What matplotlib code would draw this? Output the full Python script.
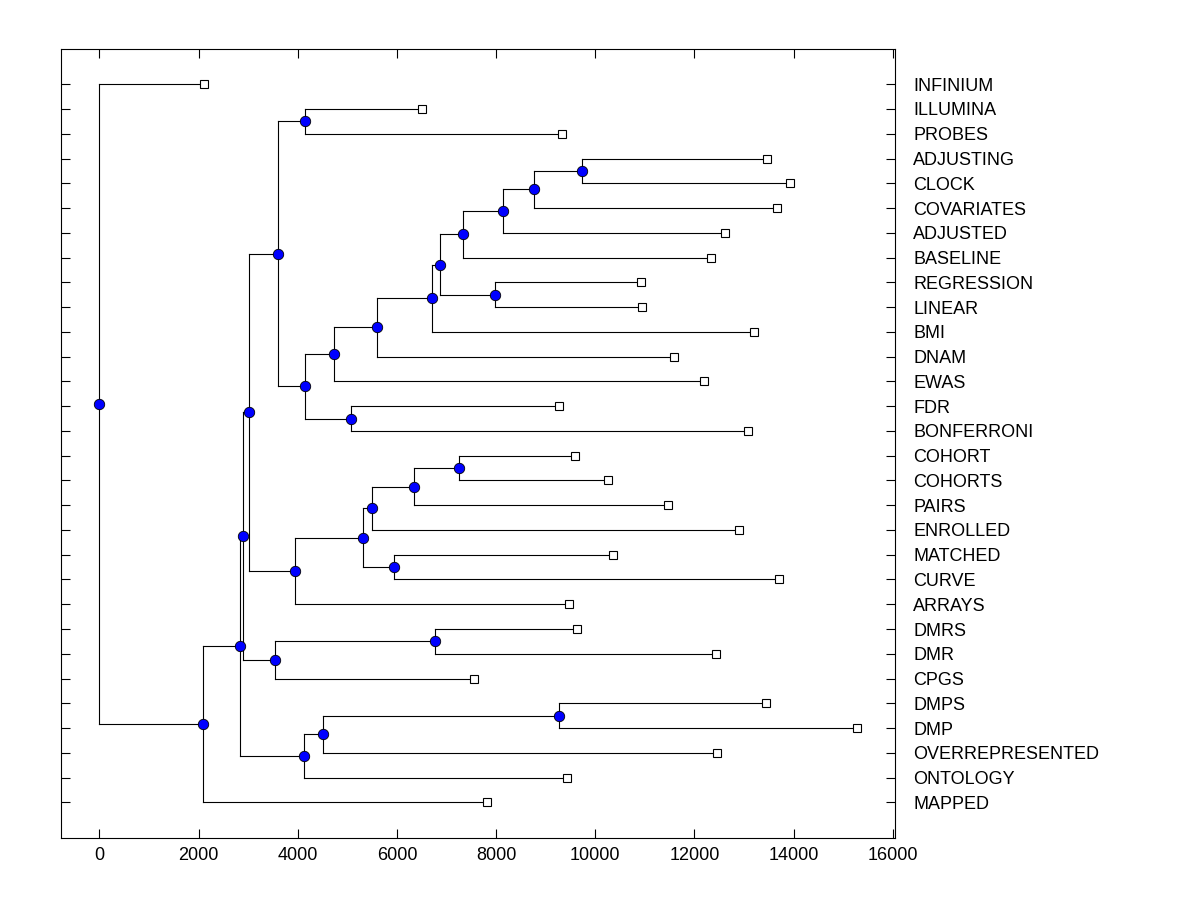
import matplotlib
matplotlib.use("Agg")
import matplotlib.pyplot as plt

# leaves, top to bottom
labels = ["INFINIUM", "ILLUMINA", "PROBES", "ADJUSTING", "CLOCK", "COVARIATES",
          "ADJUSTED", "BASELINE", "REGRESSION", "LINEAR", "BMI", "DNAM", "EWAS",
          "FDR", "BONFERRONI", "COHORT", "COHORTS", "PAIRS", "ENROLLED", "MATCHED",
          "CURVE", "ARRAYS", "DMRS", "DMR", "CPGS", "DMPS", "DMP",
          "OVERREPRESENTED", "ONTOLOGY", "MAPPED"]
leaf_dist = [2100, 6500, 9320, 13470, 13920, 13670, 12610, 12330, 10930, 10950,
             13210, 11590, 12190, 9260, 13090, 9600, 10250, 11470, 12890, 10350,
             13710, 9470, 9640, 12430, 7550, 13450, 15280, 12450, 9440, 7810]

# merges: node name, first child, second child, merge distance
node_names = ["G", "R", "Q", "P", "N", "O", "M", "L", "K", "I", "J", "H", "F",
              "X", "W", "U", "V", "T", "S", "E", "Z", "Y", "D",
              "AC", "AB", "AA", "C", "B", "A"]
child_a = ["ILLUMINA", "ADJUSTING", "R", "Q", "P", "REGRESSION", "N", "M", "L", "K",
           "FDR", "I", "G", "COHORT", "X", "W", "MATCHED", "U", "T", "F", "DMRS",
           "Z", "E", "DMPS", "AC", "AB", "D", "C", "INFINIUM"]
child_b = ["PROBES", "CLOCK", "COVARIATES", "ADJUSTED", "BASELINE", "LINEAR", "O",
           "BMI", "DNAM", "EWAS", "BONFERRONI", "J", "H", "COHORTS", "PAIRS",
           "ENROLLED", "CURVE", "V", "ARRAYS", "S", "DMR", "CPGS", "Y", "DMP",
           "OVERREPRESENTED", "ONTOLOGY", "AA", "MAPPED", "B"]
node_dist = [4146, 9728, 8756, 8140, 7330, 7978, 6868, 6706, 5595, 4733, 5071,
             4146, 3607, 7245, 6344, 5496, 5935, 5319, 3946, 3013, 6768, 3545,
             2899, 9264, 4510, 4124, 2836, 2097, 0]

pos = {}
for i, name in enumerate(labels):
    pos[name] = (leaf_dist[i], i)

fig = plt.figure(figsize=(12, 9), dpi=100)
ax = fig.add_axes([0.051, 0.0686, 0.695, 0.8766])

lw = 0.8
node_x = []
node_y = []
for name, a, b, d in zip(node_names, child_a, child_b, node_dist):
    xa, ya = pos[a]
    xb, yb = pos[b]
    ym = (ya + yb) / 2
    ax.plot([d, d], [ya, yb], color="black", lw=lw, zorder=1)
    ax.plot([d, xa], [ya, ya], color="black", lw=lw, zorder=1)
    ax.plot([d, xb], [yb, yb], color="black", lw=lw, zorder=1)
    pos[name] = (d, ym)
    node_x.append(d)
    node_y.append(ym)

ax.plot(node_x, node_y, "o", ms=7.5, mfc="#0000ff", mec="black", mew=0.6,
        ls="none", zorder=3)
ax.plot(leaf_dist, range(len(labels)), "s", ms=6, mfc="white", mec="black",
        mew=0.8, ls="none", zorder=3)

ax.set_xlim(-770, 16050)
ax.set_ylim(len(labels) - 1 + 1.45, -1.41)
ax.set_xticks(range(0, 16001, 2000))
ax.set_yticks(range(len(labels)))
ax.set_yticklabels(labels)

ax.tick_params(axis="x", direction="in", top=True, bottom=True, length=6.5,
               width=0.8, pad=6, labelsize=13)
ax.tick_params(axis="y", direction="in", left=True, right=True, length=6.5,
               width=0.8, pad=13, labelsize=13, labelleft=False,
               labelright=True)
for lab in ax.get_xticklabels() + ax.get_yticklabels():
    lab.set_fontfamily("Liberation Sans")
for sp in ax.spines.values():
    sp.set_linewidth(0.8)

fig.savefig("out.png", dpi=100)
